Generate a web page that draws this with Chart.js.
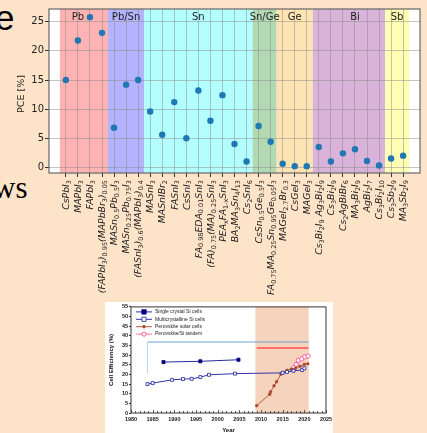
<!DOCTYPE html>
<html>
<head>
<meta charset="utf-8">
<script src="https://cdn.jsdelivr.net/npm/chart.js@4.4.1/dist/chart.umd.min.js"></script>
<style>
  html, body { margin: 0; padding: 0; }
  body { width: 427px; height: 433px; background: #fde4c9; position: relative; overflow: hidden; }
  .slide { position: absolute; color: #000; line-height: 1; white-space: nowrap; }
  #t1 { left: -5px; top: -2px; font: 35px "Liberation Sans", sans-serif; }
  #t2 { left: -7px; top: 170px; font: 31px "Liberation Serif", serif; }
  #main { position: absolute; left: 0; top: 0; }
  #inset { position: absolute; left: 105px; top: 302px; width: 228px; height: 131px; background: #fff; }
  #eff { display: block; }
</style>
</head>
<body>
<div class="slide" id="t1">e</div>
<div class="slide" id="t2">ws</div>
<canvas id="main" width="427" height="433"></canvas>
<div id="inset"><canvas id="eff" width="228" height="131"></canvas></div>
<script>
// main chart: PCE per compound
const compounds = [
  "CsPbI_{3}", "MAPbI_{3}", "FAPbI_{3}", "(FAPbI_{3})_{0.95}(MAPbBr_{3})_{0.05}",
  "MASn_{0.5}Pb_{0.5}I_{3}", "MASn_{0.25}Pb_{0.75}I_{3}", "(FASnI_{3})_{0.6}(MAPbI_{3})_{0.4}",
  "MASnI_{3}", "MASnIBr_{2}", "FASnI_{3}", "CsSnI_{3}", "FA_{0.98}EDA_{0.01}SnI_{3}",
  "(FA)_{0.75}(MA)_{0.25}SnI_{3}", "PEA_{x}FA_{1-x}SnI_{3}", "BA_{2}MA_{3}Sn_{4}I_{13}", "Cs_{2}SnI_{6}",
  "CsSn_{0.5}Ge_{0.5}I_{3}", "FA_{0.75}MA_{0.25}Sn_{0.95}Ge_{0.05}I_{3}",
  "MAGeI_{2.7}Br_{0.3}", "CsGeI_{3}", "MAGeI_{3}",
  "Cs_{3}Bi_{2}I_{9} Ag_{3}Bi_{2}I_{9}", "Cs_{3}Bi_{2}I_{9}", "Cs_{2}AgBiBr_{6}", "MA_{3}Bi_{2}I_{9}",
  "AgBi_{2}I_{7}", "Cs_{3}Bi_{2}I_{10}",
  "Cs_{3}Sb_{2}I_{9}", "MA_{3}Sb_{2}I_{9}"
];
const pce = [15.0, 21.8, 25.8, 23.1, 6.8, 14.2, 15.0, 9.6, 5.6, 11.2, 5.0, 13.2, 8.0, 12.4, 4.0, 1.0,
  7.1, 4.4, 0.6, 0.2, 0.2, 3.5, 1.0, 2.4, 3.1, 1.1, 0.3, 1.5, 2.0];
const groups = ["Pb", "Pb/Sn", "Sn", "Sn/Ge", "Ge", "Bi", "Sb"];
const groupFirst = [0, 4, 7, 16, 18, 21, 27];
const groupLast = [3, 6, 15, 17, 20, 26, 28];
const groupLabelAt = [1, 5, 11, 16.5, 19, 24, 27.5];
const pceTicks = [0, 5, 10, 15, 20, 25];

const groupColors = ["#ffb3b3", "#b3b3ff", "#b3ffff", "#b3d9b3", "#ffe4b3", "#d9b3d9", "#ffffb3"];

// inset: cell efficiency over the years
const yearTicks = [1980, 1985, 1990, 1995, 2000, 2005, 2010, 2015, 2020, 2025];
const effTicks = [0, 5, 10, 15, 20, 25, 30, 35, 40, 45, 50, 55];
const singleYears = [1987.5, 1996, 2004.8];
const single = [26.4, 26.8, 27.6];
const multiYears = [1983.8, 1985, 1989.5, 1992, 1994, 1996, 1998, 2004, 2015, 2016, 2017.5, 2019.5, 2020];
const multi = [15.0, 15.5, 17.2, 17.6, 17.7, 18.6, 19.8, 20.4, 20.8, 21.3, 21.9, 22.3, 23.2];
const pskYears = [2009, 2012, 2012.2, 2013, 2013.6, 2014.6, 2015, 2016, 2017, 2018, 2019, 2020, 2020.8];
const psk = [3.8, 9.7, 10.9, 14.1, 16.2, 20.1, 21.0, 22.1, 22.7, 23.3, 24.2, 25.2, 25.5];
const tandemYears = [2017.6, 2018.1, 2018.6, 2019.4, 2020.1, 2020.9];
const tandem = [23.6, 25.2, 27.3, 28.0, 29.1, 29.5];
const siLimitYears = [1983.8, 2021];
const siLimit = 36.8;
const siLimitFrom = 21.0;
const pskLimitYears = [2009, 2021];
const pskLimit = 33.7;
const pskEra = [2008.7, 2021];

const FONT = '"DejaVu Sans", sans-serif';

function parseLabel(s) {
  const parts = [];
  const re = /_\{([^}]*)\}/g;
  let last = 0, m;
  while ((m = re.exec(s))) {
    if (m.index > last) parts.push({t: s.slice(last, m.index), sub: false});
    parts.push({t: m[1], sub: true});
    last = re.lastIndex;
  }
  if (last < s.length) parts.push({t: s.slice(last), sub: false});
  return parts;
}

const FS = 9.3;
function drawMath(ctx, s, x, yTop) {
  const mainFont = `italic ${FS}px ${FONT}`;
  const subFont = `${(FS * 0.7).toFixed(1)}px ${FONT}`;
  const parts = parseLabel(s);
  let w = 0;
  parts.forEach(p => {
    ctx.font = p.sub ? subFont : mainFont;
    p.w = ctx.measureText(p.t).width;
    w += p.w;
  });
  ctx.save();
  ctx.translate(x, yTop);
  ctx.rotate(-Math.PI / 2);
  ctx.textBaseline = "alphabetic";
  ctx.textAlign = "left";
  let u = -w;
  parts.forEach(p => {
    ctx.font = p.sub ? subFont : mainFont;
    ctx.fillText(p.t, u, p.sub ? FS * 0.55 : FS * 0.35);
    u += p.w;
  });
  ctx.restore();
}

const bands = {
  id: "bands",
  beforeDraw(chart) {
    const {ctx, chartArea: a, scales: {x}} = chart;
    ctx.save();
    ctx.fillStyle = "#fff";
    ctx.fillRect(a.left, a.top, a.width, a.height);
    groups.forEach((g, i) => {
      const x0 = x.getPixelForValue(groupFirst[i] - 0.5);
      const x1 = x.getPixelForValue(groupLast[i] + 0.5);
      ctx.fillStyle = groupColors[i];
      ctx.fillRect(x0, a.top, x1 - x0, a.height);
    });
    ctx.restore();
  },
  afterDraw(chart) {
    const {ctx, chartArea: a, scales: {x}} = chart;
    ctx.save();
    ctx.strokeStyle = "#666";
    ctx.lineWidth = 1.2;
    ctx.strokeRect(a.left, a.top, a.width, a.height);

    ctx.fillStyle = "#222";
    ctx.font = `10px ${FONT}`;
    ctx.textAlign = "center";
    ctx.textBaseline = "middle";
    groups.forEach((g, i) => ctx.fillText(g, x.getPixelForValue(groupLabelAt[i]), a.top + 8.5));

    ctx.fillStyle = "#1a1a1a";
    compounds.forEach((c, i) => drawMath(ctx, c, x.getPixelForValue(i), a.bottom + 7));

    ctx.save();
    ctx.fillStyle = "#222";
    ctx.translate(22, (a.top + a.bottom) / 2 + 3);
    ctx.rotate(-Math.PI / 2);
    ctx.font = `9.5px ${FONT}`;
    ctx.fillText("PCE [%]", 0, 0);
    ctx.restore();
    ctx.restore();
  }
};

new Chart(document.getElementById("main"), {
  type: "scatter",
  data: {
    datasets: [{
      data: pce.map((v, i) => ({x: i, y: v})),
      backgroundColor: "#1f77b4",
      borderWidth: 0,
      pointRadius: 3.2
    }]
  },
  options: {
    responsive: false,
    animation: false,
    layout: {padding: {top: 9, right: 7, left: 0, bottom: 0}},
    plugins: {legend: {display: false}, tooltip: {enabled: false}},
    scales: {
      x: {
        type: "linear", min: -1.4, max: 29.4,
        afterBuildTicks: s => { s.ticks = compounds.map((c, i) => ({value: i})); },
        afterFit: s => { s.height = 433 - 173; },
        grid: {color: "rgba(140,140,140,0.5)", lineWidth: 1, tickLength: 4, tickColor: "#333"},
        border: {display: false},
        ticks: {display: false}
      },
      y: {
        min: -0.98, max: 27.2,
        afterBuildTicks: s => { s.ticks = pceTicks.map(v => ({value: v})); },
        afterFit: s => { s.width = 49; },
        grid: {color: "rgba(140,140,140,0.5)", lineWidth: 1, tickLength: 4, tickColor: "#333"},
        border: {display: false},
        ticks: {color: "#222", padding: 1, font: {size: 10, family: FONT}}
      }
    }
  },
  plugins: [bands]
});

// ---- inset ----
const BOLD = "Arial, 'Liberation Sans', sans-serif";
const pts = (xs, ys) => xs.map((x, i) => ({x, y: ys[i]}));

function drawMarker(ctx, ds, x, y) {
  const r = ds.pointRadius;
  ctx.fillStyle = ds.pointBackgroundColor;
  ctx.strokeStyle = ds.pointBorderColor;
  ctx.lineWidth = ds.pointBorderWidth;
  ctx.beginPath();
  if (ds.pointStyle === "rect") ctx.rect(x - r, y - r, 2 * r, 2 * r);
  else ctx.arc(x, y, r, 0, Math.PI * 2);
  ctx.fill();
  ctx.stroke();
}

const insetDeco = {
  id: "insetDeco",
  beforeDraw(chart) {
    const {ctx, chartArea: a, scales: {x}} = chart;
    const x0 = x.getPixelForValue(pskEra[0]);
    const x1 = x.getPixelForValue(pskEra[1]);
    ctx.save();
    ctx.fillStyle = "#f6d3bd";
    ctx.fillRect(x0, a.top, x1 - x0, a.height);
    ctx.restore();
  },
  afterDraw(chart) {
    const {ctx, chartArea: a, scales: {x}} = chart;
    ctx.save();
    ctx.strokeStyle = "#333";
    ctx.lineWidth = 1;
    ctx.strokeRect(a.left, a.top, a.width, a.height);
    // small inward year ticks
    ctx.beginPath();
    for (let yr = yearTicks[0]; yr <= yearTicks[yearTicks.length - 1]; yr++) {
      const px = Math.round(x.getPixelForValue(yr)) + 0.5;
      const len = yr % 5 === 0 ? 3 : 2;
      ctx.moveTo(px, a.bottom);
      ctx.lineTo(px, a.bottom - len);
    }
    ctx.lineWidth = 0.8;
    ctx.stroke();

    // year labels
    ctx.fillStyle = "#222";
    ctx.font = `bold 5.5px ${BOLD}`;
    ctx.textAlign = "center";
    ctx.textBaseline = "middle";
    yearTicks.forEach(v => ctx.fillText(String(v), x.getPixelForValue(v), a.bottom + 6));

    // legend
    chart.data.datasets.slice(0, 4).forEach((ds, i) => {
      const y = a.top + 5 + i * 7.4;
      const lx = a.left + 5;
      ctx.strokeStyle = ds.borderColor;
      ctx.lineWidth = ds.borderWidth;
      ctx.beginPath();
      ctx.moveTo(lx, y);
      ctx.lineTo(lx + 16, y);
      ctx.stroke();
      drawMarker(ctx, ds, lx + 8, y);
      ctx.fillStyle = "#222";
      ctx.font = `5px ${BOLD}`;
      ctx.textAlign = "left";
      ctx.textBaseline = "middle";
      ctx.fillText(ds.label, lx + 19, y);
    });

    ctx.fillStyle = "#111";
    ctx.font = `bold 6px ${BOLD}`;
    ctx.textAlign = "center";
    ctx.textBaseline = "middle";
    ctx.fillText("Year", (a.left + a.right) / 2, 128);
    ctx.save();
    ctx.translate(6, (a.top + a.bottom) / 2);
    ctx.rotate(-Math.PI / 2);
    ctx.fillText("Cell Efficiency (%)", 0, 0);
    ctx.restore();
    ctx.restore();
  }
};

new Chart(document.getElementById("eff"), {
  type: "scatter",
  data: {
    datasets: [
      {label: "Single crystal Si cells", data: pts(singleYears, single), showLine: true,
       borderColor: "#2b2ba0", borderWidth: 1, pointStyle: "rect", pointRadius: 2.2,
       pointBackgroundColor: "#000080", pointBorderColor: "#000080", pointBorderWidth: 0.8},
      {label: "Multicrystalline Si cells", data: pts(multiYears, multi), showLine: true,
       borderColor: "#3535a8", borderWidth: 1, pointStyle: "rect", pointRadius: 2.1,
       pointBackgroundColor: "#fff", pointBorderColor: "#3535a8", pointBorderWidth: 0.9},
      {label: "Perovskite solar cells", data: pts(pskYears, psk), showLine: true,
       borderColor: "#b0502e", borderWidth: 0.9, pointStyle: "circle", pointRadius: 1.4,
       pointBackgroundColor: "#a8472a", pointBorderColor: "#a8472a", pointBorderWidth: 0.5},
      {label: "Perovskite/Si tandem", data: pts(tandemYears, tandem), showLine: true,
       borderColor: "#ff5aa0", borderWidth: 0.9, pointStyle: "circle", pointRadius: 2.1,
       pointBackgroundColor: "#fff", pointBorderColor: "#ff4f9a", pointBorderWidth: 0.9},
      {data: siLimitYears.map(x => ({x, y: siLimit})), showLine: true, borderColor: "#5b9bd5",
       borderWidth: 0.9, pointRadius: 0},
      {data: [{x: siLimitYears[0], y: siLimitFrom}, {x: siLimitYears[0], y: siLimit}], showLine: true,
       borderColor: "#7aa9dc", borderWidth: 1, borderDash: [1, 1], pointRadius: 0},
      {data: pskLimitYears.map(x => ({x, y: pskLimit})), showLine: true, borderColor: "#ff6f6f",
       borderWidth: 2, pointRadius: 0}
    ]
  },
  options: {
    responsive: false,
    animation: false,
    layout: {padding: {top: 3.5, right: 7, left: 0, bottom: 0}},
    plugins: {legend: {display: false}, tooltip: {enabled: false}},
    scales: {
      x: {
        type: "linear", min: 1980, max: 2025,
        afterBuildTicks: s => { s.ticks = yearTicks.map(v => ({value: v})); },
        afterFit: s => { s.height = 20; },
        grid: {display: false},
        border: {display: false},
        ticks: {display: false}
      },
      y: {
        min: 0, max: 55,
        afterBuildTicks: s => { s.ticks = effTicks.map(v => ({value: v})); },
        afterFit: s => { s.width = 26; },
        grid: {drawOnChartArea: false, tickLength: 2, tickColor: "#333"},
        border: {display: false},
        ticks: {color: "#222", padding: 1, font: {size: 5.5, weight: "bold", family: BOLD}}
      }
    }
  },
  plugins: [insetDeco]
});
</script>
</body>
</html>
